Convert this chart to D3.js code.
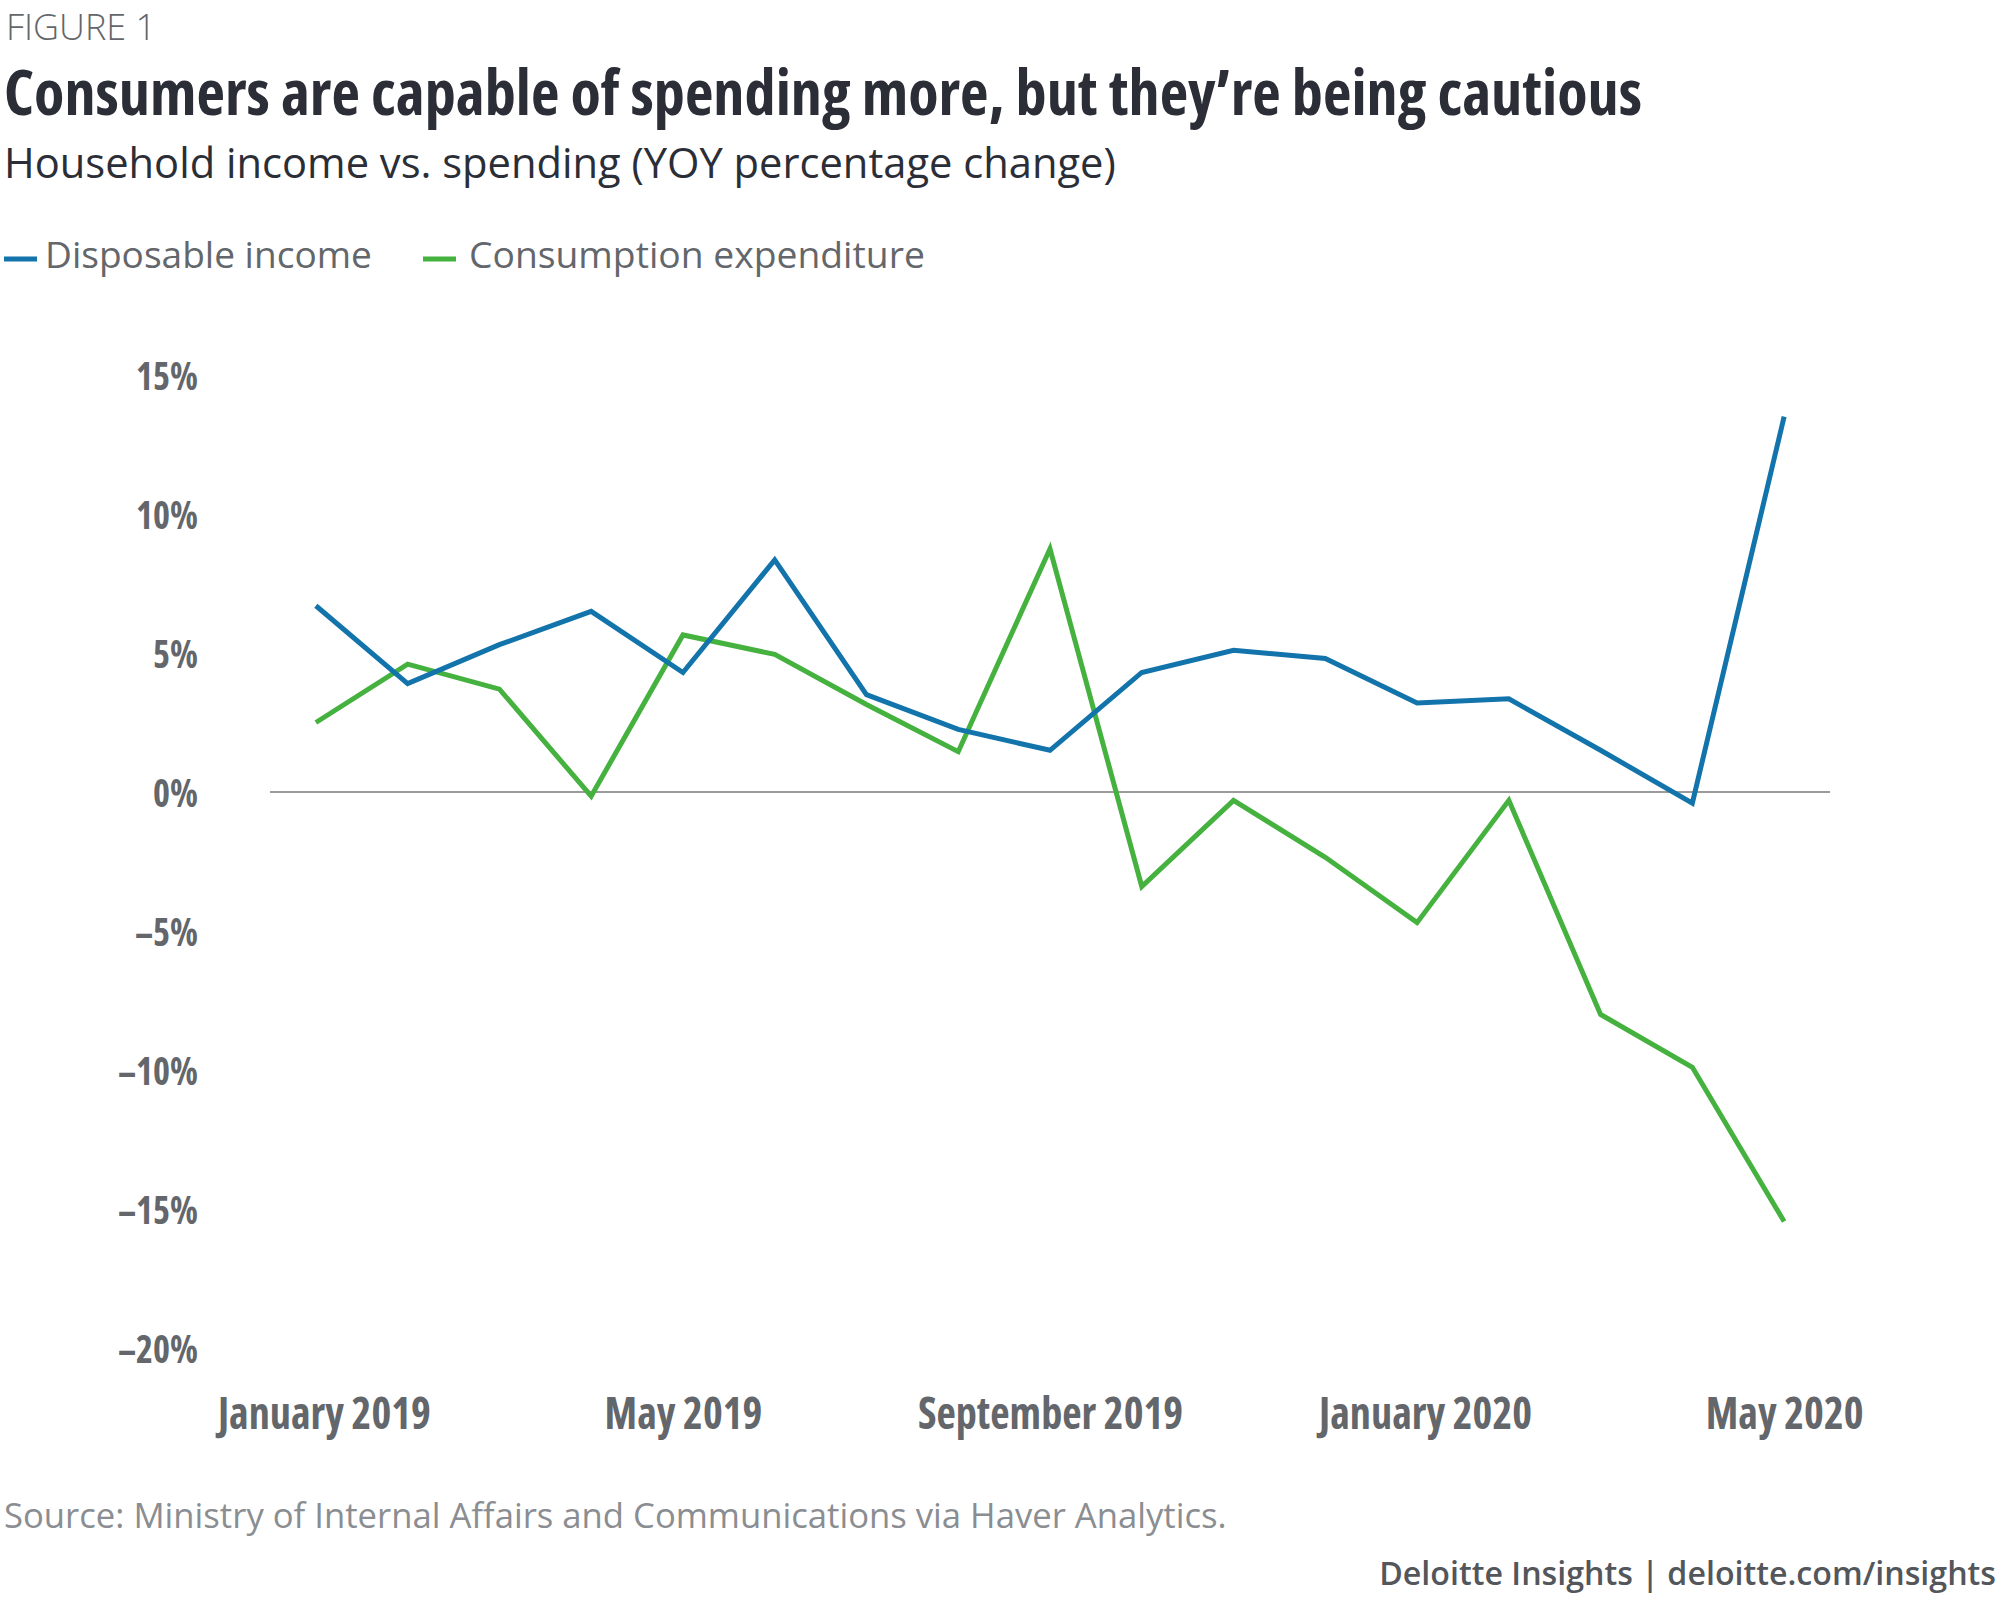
<!DOCTYPE html>
<html>
<head>
<meta charset="utf-8">
<script src="https://cdn.jsdelivr.net/npm/d3@7"></script>
<style>
  html, body { margin: 0; padding: 0; background: #fff; }
  svg { display: block; }
  .cond { font-family: "Open Sans", sans-serif; font-stretch: 75%; font-weight: 700; }
  .reg { font-family: "Open Sans", sans-serif; }
</style>
</head>
<body>
<svg id="chart" width="2000" height="1606"></svg>
<script>
// ---- Data ----
const months = ["Jan 2019","Feb 2019","Mar 2019","Apr 2019","May 2019","Jun 2019","Jul 2019","Aug 2019",
  "Sep 2019","Oct 2019","Nov 2019","Dec 2019","Jan 2020","Feb 2020","Mar 2020","Apr 2020","May 2020"];
const disposableIncome = [6.7, 3.9, 5.3, 6.5, 4.3, 8.35, 3.5, 2.25, 1.5, 4.3, 5.1, 4.8, 3.2, 3.35, 1.5, -0.4, 13.5];
const consumptionExpenditure = [2.5, 4.6, 3.7, -0.15, 5.65, 4.95, 3.15, 1.45, 8.75, -3.4, -0.3, -2.35, -4.7, -0.3, -8.0, -9.9, -15.45];
const yTicks = [15, 10, 5, 0, -5, -10, -15, -20];
const xTickMonths = ["Jan 2019","May 2019","Sep 2019","Jan 2020","May 2020"];
const xTickLabels = ["January 2019","May 2019","September 2019","January 2020","May 2020"];
const seriesNames = ["Disposable income","Consumption expenditure"];

const blue = "#1274ab", green = "#45b13f", gray = "#63666a", dark = "#2b2e37";

const svg = d3.select("#chart");

function fitWidth(sel, w) {
  const cur = sel.node().getComputedTextLength();
  const fs = parseFloat(sel.attr("font-size"));
  sel.attr("font-size", fs * w / cur);
  return sel;
}
function squeeze(sel, w) {
  sel.attr("textLength", w).attr("lengthAdjust", "spacingAndGlyphs");
  return sel;
}

// ---- Header ----
fitWidth(svg.append("text").attr("class","reg").attr("x",6).attr("y",40)
  .attr("font-size",30).attr("font-weight",300).attr("fill",gray).text("FIGURE 1"), 150);

squeeze(svg.append("text").attr("class","cond").attr("x",4).attr("y",115)
  .attr("font-size",63).attr("fill",dark)
  .text("Consumers are capable of spending more, but they\u2019re being cautious"), 1638);

fitWidth(svg.append("text").attr("class","reg").attr("x",4).attr("y",178)
  .attr("font-size",38).attr("fill",dark)
  .text("Household income vs. spending (YOY percentage change)"), 1112);

// ---- Legend ----
const legendItems = [
  {name: seriesNames[0], color: blue, x0: 4, tx: 45, w: 327},
  {name: seriesNames[1], color: green, x0: 423, tx: 469, w: 456}
];
legendItems.forEach(it => {
  svg.append("line").attr("x1", it.x0).attr("x2", it.x0 + 33).attr("y1", 259).attr("y2", 259)
    .attr("stroke", it.color).attr("stroke-width", 5);
  fitWidth(svg.append("text").attr("class","reg").attr("x", it.tx).attr("y", 268)
    .attr("font-size", 36).attr("fill", gray).text(it.name), it.w);
});

// ---- Scales ----
const x = d3.scalePoint().domain(months).range([270, 1830]).padding(0.5);
const y = d3.scaleLinear().domain([-20, 15]).range([1348, 375]);

// zero line
svg.append("line").attr("x1", 270).attr("x2", 1830).attr("y1", y(0)).attr("y2", y(0))
  .attr("stroke", "#7a7a7a").attr("stroke-width", 1.6);

// ---- Y axis ----
const fmt = d => (d < 0 ? "\u2013" + Math.abs(d) : d) + "%";
const yAxis = d3.axisLeft(y).tickValues(yTicks).tickSize(0).tickPadding(0).tickFormat(fmt);
const gy = svg.append("g").attr("transform", "translate(198,0)").call(yAxis);
gy.select(".domain").remove();
gy.selectAll("text").attr("class","cond").attr("font-size", 39).attr("fill", gray)
  .attr("font-family", null).attr("dy", "0.36em");
{
  const ref = gy.selectAll("text").filter(d => d === -20).node().getComputedTextLength();
  const k = 80 / ref;
  gy.selectAll("text").each(function() {
    const w = this.getComputedTextLength();
    d3.select(this).attr("textLength", w * k).attr("lengthAdjust", "spacingAndGlyphs");
  });
}

// ---- X axis ----
const xAxis = d3.axisBottom(x).tickValues(xTickMonths).tickSize(0).tickPadding(0)
  .tickFormat(d => xTickLabels[xTickMonths.indexOf(d)]);
const gx = svg.append("g").attr("transform", "translate(0,1429)").call(xAxis);
gx.select(".domain").remove();
gx.selectAll("text").attr("class","cond").attr("font-size", 45).attr("fill", gray)
  .attr("font-family", null).attr("dy", 0).attr("y", 0)
  .attr("x", d => d.startsWith("Jan") ? 8 : 0);
{
  const ref = gx.selectAll("text").filter(d => d === "Jan 2019").node().getComputedTextLength();
  const k = 213 / ref;
  gx.selectAll("text").each(function() {
    const w = this.getComputedTextLength();
    d3.select(this).attr("textLength", w * k).attr("lengthAdjust", "spacingAndGlyphs");
  });
}

// ---- Lines ----
const line = d3.line().x((d, i) => x(months[i])).y(d => y(d));
svg.append("path").datum(consumptionExpenditure).attr("d", line)
  .attr("fill","none").attr("stroke", green).attr("stroke-width", 5).attr("stroke-linejoin","miter");
svg.append("path").datum(disposableIncome).attr("d", line)
  .attr("fill","none").attr("stroke", blue).attr("stroke-width", 5).attr("stroke-linejoin","miter");

// ---- Footer ----
fitWidth(svg.append("text").attr("class","reg").attr("x",4).attr("y",1528)
  .attr("font-size",34).attr("fill","#8a8d91")
  .text("Source: Ministry of Internal Affairs and Communications via Haver Analytics."), 1223);

const foot = svg.append("text").attr("class","reg").attr("x",1996).attr("y",1585)
  .attr("text-anchor","end").attr("font-size",34).attr("font-weight",600).attr("fill","#53565a")
  .text("Deloitte Insights | deloitte.com/insights");
fitWidth(foot, 617);
</script>
</body>
</html>
